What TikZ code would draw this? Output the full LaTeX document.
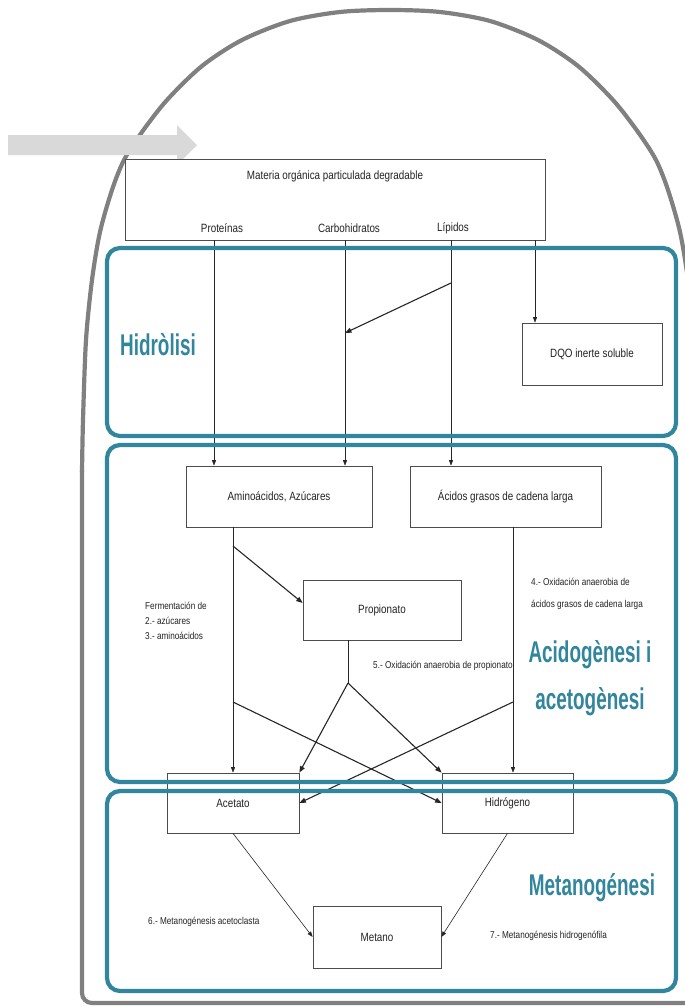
\documentclass[tikz,border=0pt]{standalone}
\usepackage{fontspec}
\setmainfont{Liberation Sans}
\newfontfamily\nar[FakeStretch=0.82]{Liberation Sans}
\newfontfamily\ttl[FakeStretch=0.63]{Liberation Sans}
\usetikzlibrary{arrows.meta}
\definecolor{tealc}{RGB}{49,133,156}
\definecolor{outerc}{RGB}{128,128,128}
\definecolor{arrowc}{RGB}{217,217,217}
\definecolor{txtc}{RGB}{35,35,35}
\tikzset{
  boxn/.style={draw=black!70, line width=0.7pt, fill=white, inner sep=0pt, text=txtc,
    font=\nar\fontsize{12}{14}\selectfont},
  lbl/.style={inner sep=0pt, text=txtc, font=\nar\fontsize{12}{14}\selectfont},
  small/.style={inner sep=0pt, anchor=west, text=txtc, font=\nar\fontsize{10}{12}\selectfont},
  title/.style={inner sep=0pt, text=tealc, font=\ttl\bfseries\fontsize{30}{34}\selectfont},
  arr/.style={draw=black!85, line width=0.6pt, -{Triangle[length=5.5pt,width=4pt]}},
  arrT/.style={draw=black!85, line width=1.1pt, -{Triangle[length=6.5pt,width=5pt]}},
  ln/.style={draw=black!85, line width=0.6pt},
  tealbox/.style={draw=tealc, line width=4.2pt, rounded corners=13pt},
  outer/.style={draw=outerc, line width=4.2pt}
}
\begin{document}
\begin{tikzpicture}[x=1pt,y=-1pt]
\useasboundingbox (0,0) rectangle (685,1007);
\clip (0,0) rectangle (685,1007);

% outer arch
\draw[outer, rounded corners=10pt] (700,1003) -- (82,1003) -- (82,470);
\draw[outer] plot[smooth] coordinates {(82,472) (83,420) (86,340) (92,280) (100,232) (112,190) (124,160) (142,132) (167,100) (202,66) (242,40) (290,21) (340,12) (390,10) (440,12) (490,21) (538,40) (578,66) (613,100) (638,132) (656,160) (668,190) (680,232) (688,280) (694,340) (697,420) (698,472)};

% big grey arrow
\fill[arrowc] (8,135) -- (177,135) -- (177,125) -- (197,145) -- (177,165) -- (177,155) -- (8,155) -- cycle;

% boxes
\node[boxn, minimum width=420pt, minimum height=81pt] (materia) at (335,199.5) {};
\node[lbl] (mtxt) at (335,176) {Materia orgánica particulada degradable};
\node[lbl] (prot) at (222,228) {Proteínas};
\node[lbl] (carb) at (349,228) {Carbohidratos};
\node[lbl] (lip) at (453,228) {Lípidos};

\node[boxn, minimum width=140pt, minimum height=62pt] (dqo) at (592,354) {DQO inerte soluble};
\node[boxn, minimum width=186pt, minimum height=61pt] (amino) at (279,496.5) {Aminoácidos, Azúcares};
\node[boxn, minimum width=191pt, minimum height=61pt] (acidos) at (505.5,496.5) {Ácidos grasos de cadena larga};
\node[boxn, minimum width=158pt, minimum height=60pt] (prop) at (382,610) {Propionato};
\node[boxn, minimum width=132pt, minimum height=60pt] (acet) at (233,803) {Acetato};
\node[boxn, minimum width=131pt, minimum height=60pt] (hidro) at (507.5,803) {Hidrógeno};
\node[boxn, minimum width=128pt, minimum height=62pt] (metano) at (377,937) {Metano};

% connectors hydrolysis
\coordinate (pS) at (214,240);
\coordinate (cS) at (345,240);
\coordinate (lS) at (451,240);
\coordinate (dS) at (535,240);
\draw[arr] (pS) -- (pS |- amino.north);
\draw[arr] (cS) -- (cS |- amino.north);
\draw[arr] (lS) -- (lS |- acidos.north);
\draw[arr] (dS) -- (dS |- dqo.north);
\coordinate (lB) at (451,283);
\coordinate (cB) at (345,333);
\draw[arrT] (lB) -- (cB);

% acidogenesis connectors
\coordinate (aX) at (233,546);
\coordinate (aY) at (233,702);
\draw[arr] (aX |- amino.south) -- (aX |- acet.north);
\draw[arrT] (aX) -- ([yshift=7pt]prop.west);
\draw[arrT] (aY) -- (hidro.west);
\coordinate (bY) at (513,702);
\draw[arr] (bY |- acidos.south) -- (bY |- hidro.north);
\draw[arrT] (bY) -- (acet.east);
\coordinate (pj) at (348,683);
\draw[ln] (pj |- prop.south) -- (pj);
\draw[arrT] (pj) -- (acet.north east);
\draw[arrT] (pj) -- (hidro.north west);

% methanogenesis connectors
\draw[arr] (acet.south) -- (metano.west);
\draw[arr] (hidro.south) -- (metano.east);

% teal phase boxes
\draw[tealbox] (107,248) rectangle (676,436);
\draw[tealbox] (107,445) rectangle (676,782);
\draw[tealbox] (107,791) rectangle (676,991);

% titles
\node[title] (t1) at (158,345) {Hidròlisi};
\node[title] (t2) at (590,655) {Acidogènesi i};
\node[title] (t3) at (590,702) {acetogènesi};
\node[title] (t4) at (592,888) {Metanogénesi};

% small labels
\node[small] (f1) at (145,606) {Fermentación de};
\node[small] (f2) at (145,621) {2.- azúcares};
\node[small] (f3) at (145,636) {3.- aminoácidos};
\node[small] (o1) at (531,582) {4.- Oxidación anaerobia de};
\node[small] (o2) at (531,605) {ácidos grasos de cadena larga};
\node[small] (o3) at (373,666) {5.- Oxidación anaerobia de propionato};
\node[small] (m1) at (148,922) {6.- Metanogénesis acetoclasta};
\node[small] (m2) at (490,936) {7.- Metanogénesis hidrogenófila};
\end{tikzpicture}
\end{document}
